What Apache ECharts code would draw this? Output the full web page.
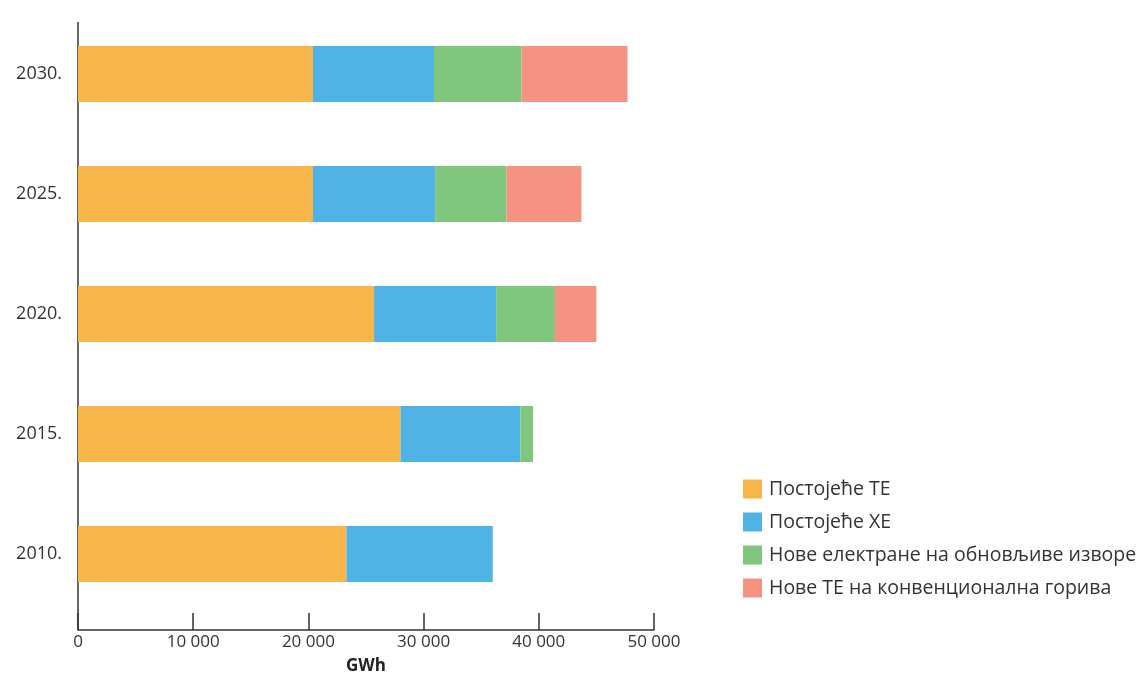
<!DOCTYPE html>
<html>
<head>
<meta charset="utf-8">
<script src="https://cdn.jsdelivr.net/npm/echarts@6/dist/echarts.min.js"></script>
<style>
  html, body { margin: 0; padding: 0; background: #ffffff; }
  #chart { width: 1145px; height: 685px; }
</style>
</head>
<body>
<div id="chart"></div>
<script>
// Production by source, GWh
const years = ['2010.', '2015.', '2020.', '2025.', '2030.'];
const existingTE = [23300, 28000, 25700, 20400, 20400];
const existingXE = [12700, 10400, 10600, 10600, 10500];
const newRenewable = [0, 1100, 5100, 6200, 7600];
const newConventional = [0, 0, 3600, 6500, 9200];
const seriesNames = [
  'Постојеће ТЕ',
  'Постојеће ХЕ',
  'Нове електране на обновљиве изворе',
  'Нове ТЕ на конвенционална горива'
];
const colors = ['#F8B54A', '#4FB3E6', '#80C67C', '#F59282'];
const xTicks = [0, 10000, 20000, 30000, 40000, 50000];

const font = '"Open Sans", "DejaVu Sans", sans-serif';
const chart = echarts.init(document.getElementById('chart'), null, { renderer: 'canvas' });

function fmt(v) {
  if (v === 0) return '0';
  const s = String(v);
  return s.slice(0, s.length - 3) + ' ' + s.slice(-3);
}

const values = [existingTE, existingXE, newRenewable, newConventional];

chart.setOption({
  animation: false,
  color: colors,
  grid: { left: 78, right: 491, top: 14, bottom: 71 },
  legend: {
    orient: 'vertical',
    left: 738,
    top: 474,
    itemWidth: 19,
    itemHeight: 19,
    itemGap: 13,
    icon: 'rect',
    textStyle: { fontFamily: font, fontSize: 19.5, color: '#333', lineHeight: 19, padding: [0, 0, 0, 2] },
    data: seriesNames
  },
  xAxis: {
    type: 'value',
    min: 0,
    max: 50000,
    interval: 10000,
    offset: 16,
    name: 'GWh',
    nameLocation: 'middle',
    nameGap: 28,
    nameTextStyle: { fontFamily: font, fontSize: 17, color: '#222', fontWeight: 'bold' },
    axisLine: { show: true, lineStyle: { color: '#333', width: 1.5 } },
    axisTick: { show: true, inside: true, length: 17, lineStyle: { color: '#333', width: 1.5 } },
    axisLabel: {
      fontFamily: font, fontSize: 17, color: '#333', margin: 4,
      formatter: v => xTicks.includes(v) ? fmt(v) : ''
    },
    splitLine: { show: false }
  },
  yAxis: {
    type: 'category',
    data: years,
    axisLine: { show: false },
    axisTick: { show: false },
    axisLabel: { fontFamily: font, fontSize: 18, color: '#333', margin: 16 }
  },
  series: seriesNames.map((name, i) => ({
    name: name,
    type: 'bar',
    stack: 'total',
    barWidth: 56,
    data: values[i],
    itemStyle: { color: colors[i] }
  }))
});

// vertical axis line from the top of the plot down to the offset value axis
const x0 = chart.convertToPixel({ gridIndex: 0 }, [0, 0])[0];
chart.setOption({
  graphic: [{
    type: 'line',
    shape: { x1: x0, y1: 22, x2: x0, y2: 630 },
    style: { stroke: '#333', lineWidth: 1.5 }
  }]
});
</script>
</body>
</html>
